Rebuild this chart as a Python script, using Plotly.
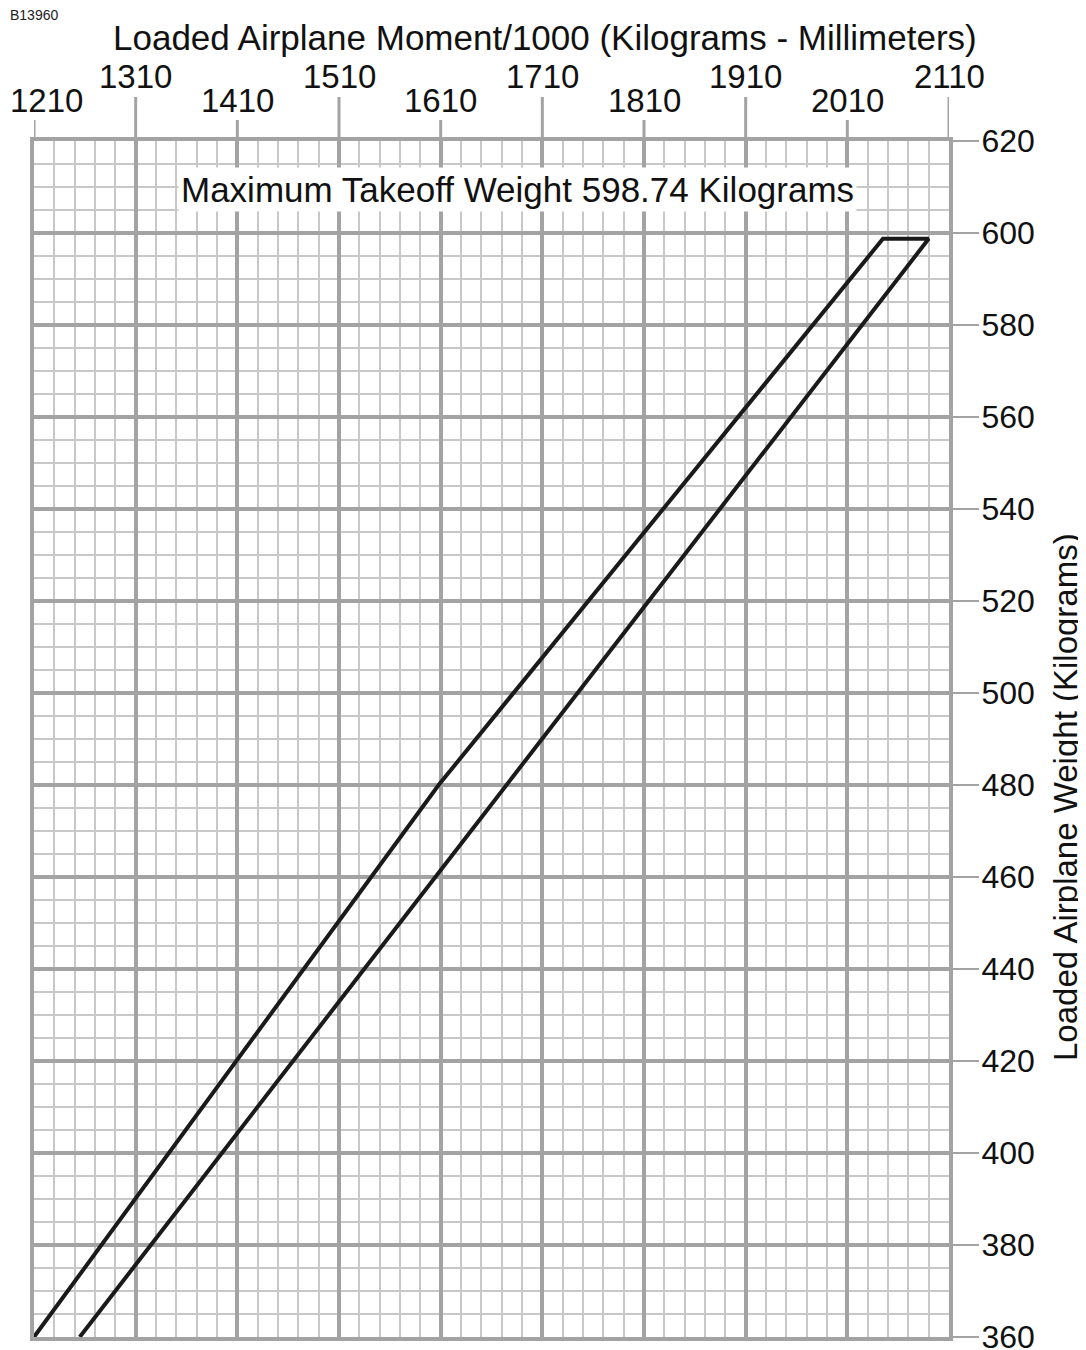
import plotly.graph_objects as go

# ---- data ----
envelope_moment = [1210, 1608, 2045, 2090, 1255]
envelope_weight = [360, 480, 598.74, 598.74, 360]

x_ticks_low = [1210, 1410, 1610, 1810, 2010]
x_ticks_high = [1310, 1510, 1710, 1910, 2110]
y_ticks = [360, 380, 400, 420, 440, 460, 480, 500, 520, 540, 560, 580, 600, 620]

max_label = "Maximum Takeoff Weight 598.74 Kilograms"
max_label_pos = (1686, 609.5)

MAJOR = "#a3a3a3"
MINOR = "#c8c8c8"
FONT = "Liberation Sans, Arial, sans-serif"

# page body has an 8px margin; figure size/margins compensate for it
W, H = 1078, 1342
ML, MT, MR, MB = 26, 133, 137, 13
plot_w = W - ML - MR
plot_h = H - MT - MB

fig = go.Figure()
fig.add_trace(go.Scatter(
    x=envelope_moment, y=envelope_weight, mode="lines",
    line=dict(color="#1a1a1a", width=4), hoverinfo="skip", showlegend=False,
    cliponaxis=False,
))

shapes = []
for v in x_ticks_low:
    shapes.append(dict(type="line", xref="x", yref="paper", x0=v, x1=v,
                       y0=1, y1=1 + 21 / plot_h, line=dict(color=MAJOR, width=3)))
for v in x_ticks_high:
    shapes.append(dict(type="line", xref="x", yref="paper", x0=v, x1=v,
                       y0=1, y1=1 + 44 / plot_h, line=dict(color=MAJOR, width=3)))

annotations = []
for i, v in enumerate(x_ticks_low):
    annotations.append(dict(x=v, y=1, xref="x", yref="paper", text=str(v),
                            showarrow=False, yanchor="middle", yshift=41,
                            xshift=12 if i == 0 else 0,
                            font=dict(size=33, color="#111", family=FONT)))
for v in x_ticks_high:
    annotations.append(dict(x=v, y=1, xref="x", yref="paper", text=str(v),
                            showarrow=False, yanchor="middle", yshift=65,
                            font=dict(size=33, color="#111", family=FONT)))

annotations.append(dict(x=(537 - ML) / plot_w, y=1, xref="paper", yref="paper",
                        text="Loaded Airplane Moment/1000 (Kilograms - Millimeters)",
                        showarrow=False, yanchor="middle", yshift=104,
                        font=dict(size=35, color="#111", family=FONT)))
annotations.append(dict(x=(1057 - ML) / plot_w, y=(MT + plot_h - 789) / plot_h,
                        xref="paper", yref="paper",
                        text="Loaded Airplane Weight (Kilograms)", textangle=-90,
                        showarrow=False, xanchor="center", yanchor="middle",
                        font=dict(size=33, color="#111", family=FONT)))
annotations.append(dict(x=max_label_pos[0], y=max_label_pos[1], xref="x", yref="y",
                        text=max_label, showarrow=False, bgcolor="white",
                        borderpad=2,
                        font=dict(size=35, color="#111", family=FONT)))
annotations.append(dict(x=(0 - ML) / plot_w, y=(MT + plot_h - 7) / plot_h,
                        xref="paper", yref="paper",
                        text="B13960", showarrow=False, xanchor="left", yanchor="middle",
                        font=dict(size=14, color="#222", family=FONT)))

fig.update_layout(
    width=W, height=H,
    margin=dict(l=ML, r=MR, t=MT, b=MB, autoexpand=False),
    paper_bgcolor="white", plot_bgcolor="white",
    shapes=shapes, annotations=annotations,
    xaxis=dict(range=[1210, 2110], side="top", tick0=1210, dtick=100,
               showticklabels=False, ticks="",
               showgrid=True, gridcolor=MAJOR, gridwidth=4,
               showline=True, mirror=True, linecolor=MAJOR, linewidth=4,
               zeroline=False, fixedrange=True,
               minor=dict(tick0=1210, dtick=20, showgrid=True, gridcolor=MINOR, gridwidth=2)),
    yaxis=dict(range=[360, 620], side="right", tickmode="array", tickvals=y_ticks,
               ticks="outside", ticklen=26, tickwidth=2, tickcolor=MAJOR,
               ticklabeloverflow="allow", ticklabelstandoff=-4,
               tickfont=dict(size=32, color="#111", family=FONT),
               showgrid=True, gridcolor=MAJOR, gridwidth=4,
               showline=True, mirror=True, linecolor=MAJOR, linewidth=4,
               zeroline=False, fixedrange=True,
               minor=dict(tick0=360, dtick=5, showgrid=True, gridcolor=MINOR, gridwidth=2)),
)

fig.write_html("out.html")
